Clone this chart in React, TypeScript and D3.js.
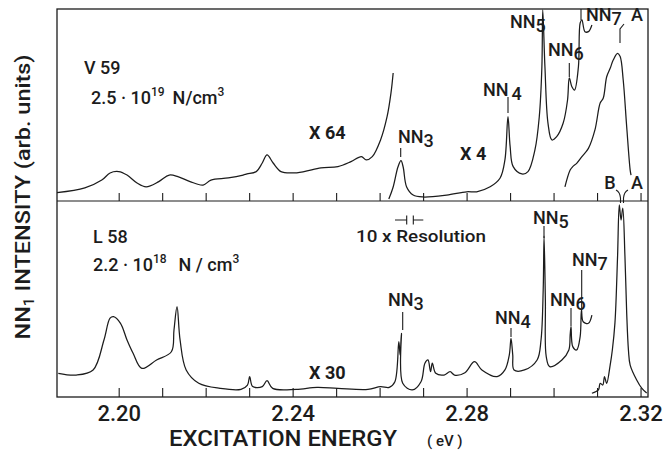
import * as d3 from "d3"

// V59 (upper panel), three recorder traces: x64, x4 and the B/A band
const v59x64E = [2.1857, 2.1921, 2.1960, 2.1979, 2.1999, 2.2018, 2.2041, 2.2062, 2.2091, 2.2115, 2.2135, 2.2163, 2.2193, 2.2211, 2.2251, 2.2285, 2.2294, 2.2315, 2.2329, 2.2340, 2.2354, 2.2372, 2.2398, 2.2425, 2.2464, 2.2503, 2.2533, 2.2557, 2.2568, 2.2582, 2.2601, 2.2616, 2.2625, 2.2630]
const v59x64I = [4.3, 6.8, 10.9, 14.6, 15.3, 13.5, 9.4, 7.4, 10.1, 13.5, 12.7, 10.1, 8.3, 10.9, 12.0, 13.5, 14.1, 15.3, 19.8, 24.0, 19.8, 15.3, 14.6, 15.3, 17.2, 17.9, 20.5, 23.1, 21.4, 23.1, 31.8, 43.9, 56.3, 66.7]

const v59x4E = [2.2620, 2.2630, 2.2641, 2.2648, 2.2653, 2.2661, 2.2676, 2.2699, 2.2753, 2.2799, 2.2822, 2.2853, 2.2876, 2.2887, 2.2894, 2.2899, 2.2906, 2.2926, 2.2940, 2.2956, 2.2966, 2.2972, 2.2974, 2.2979, 2.2986, 2.2995, 2.3006, 2.3021, 2.3031, 2.3035, 2.3041, 2.3047, 2.3056, 2.3060, 2.3064, 2.3071, 2.3079, 2.3087]
const v59x4I = [1.0, 7.3, 17.7, 21.0, 17.7, 7.3, 3.1, 2.1, 3.1, 4.8, 4.8, 7.4, 12.0, 21.4, 43.9, 28.3, 17.9, 14.1, 15.3, 26.6, 43.9, 69.9, 99.5, 69.9, 40.6, 31.8, 33.5, 40.6, 52.6, 64.1, 59.5, 57.8, 69.9, 92.7, 94.3, 88.2, 88.2, 91.7]

const v59bandE = [2.3025, 2.3037, 2.3043, 2.3052, 2.3064, 2.3079, 2.3094, 2.3106, 2.3113, 2.3121, 2.3129, 2.3136, 2.3146, 2.3152, 2.3159, 2.3167, 2.3175, 2.3177]
const v59bandI = [7.4, 16.1, 17.9, 19.6, 23.1, 27.4, 37.0, 51.0, 53.5, 64.7, 69.1, 73.4, 76.9, 75.2, 63.0, 38.7, 16.1, 13.5]

// L58 (lower panel): x30 trace and the B/A band
const l58x30E = [2.1860, 2.1901, 2.1940, 2.1965, 2.1979, 2.1987, 2.2003, 2.2018, 2.2032, 2.2052, 2.2086, 2.2120, 2.2126, 2.2133, 2.2140, 2.2154, 2.2183, 2.2232, 2.2280, 2.2295, 2.2300, 2.2307, 2.2329, 2.2340, 2.2353, 2.2407, 2.2455, 2.2503, 2.2572, 2.2601, 2.2621, 2.2634, 2.2643, 2.2646, 2.2649, 2.2652, 2.2674, 2.2694, 2.2703, 2.2710, 2.2716, 2.2720, 2.2728, 2.2747, 2.2761, 2.2771, 2.2795, 2.2817, 2.2834, 2.2869, 2.2887, 2.2897, 2.2901, 2.2905, 2.2908, 2.2932, 2.2961, 2.2970, 2.2975, 2.2977, 2.2980, 2.2982, 2.2990, 2.3018, 2.3034, 2.3037, 2.3039, 2.3043, 2.3052, 2.3060, 2.3063, 2.3067, 2.3079, 2.3087]
const l58x30I = [12.1, 11.2, 13.8, 29.1, 40.2, 41.0, 37.6, 29.1, 22.3, 14.6, 18.9, 23.1, 34.2, 46.1, 29.1, 13.8, 7.0, 4.4, 3.9, 6.1, 10.4, 5.3, 5.3, 8.3, 4.4, 3.9, 4.9, 4.4, 3.9, 5.3, 4.9, 7.8, 28.2, 21.4, 32.5, 7.0, 3.6, 7.8, 17.2, 18.9, 12.9, 17.3, 12.1, 11.2, 12.9, 11.2, 12.4, 18.0, 13.8, 10.4, 13.8, 21.4, 29.9, 21.4, 13.8, 13.8, 18.9, 29.1, 54.6, 82.1, 49.5, 20.6, 15.5, 18.9, 24.0, 31.6, 35.9, 25.7, 24.0, 30.8, 44.4, 38.4, 37.6, 41.8]

const l58bandE = [2.3087, 2.3102, 2.3106, 2.3112, 2.3116, 2.3121, 2.3129, 2.3134, 2.3140, 2.3146, 2.3150, 2.3154, 2.3158, 2.3163, 2.3167, 2.3171, 2.3175, 2.3190, 2.3202, 2.3213]
const l58bandI = [1.9, 3.6, 7.0, 6.1, 10.4, 7.0, 16.3, 24.0, 37.8, 71.6, 98.0, 90.3, 96.4, 71.6, 42.9, 24.0, 16.3, 8.7, 4.4, 2.0]

const energyTicks = [2.20, 2.21, 2.22, 2.23, 2.24, 2.25, 2.26, 2.27, 2.28, 2.29, 2.30, 2.31, 2.32]
const energyLabels = [2.20, 2.24, 2.28, 2.32]

const INK = "#1c1c1c"
const FONT = "Roboto, 'DejaVu Sans', sans-serif"

const left = 57
const right = 648
const top = 9
const mid = 201
const bottom = 397

const x = d3.scaleLinear().domain([2.1857, 2.3216]).range([left, right])
const yUp = d3.scaleLinear().domain([0, 100]).range([mid, top])
const yLow = d3.scaleLinear().domain([0, 100]).range([bottom, mid])

const trace = (es: number[], is: number[], y: d3.ScaleLinear<number, number>) =>
  d3.line<number>()
    .x((d) => x(d))
    .y((d, i) => y(is[i]))
    .curve(d3.curveCatmullRom.alpha(0.5))(es) || ""

const NN = ({ x0, y0, sub, gap = 0 }: { x0: number; y0: number; sub: string; gap?: number }) => (
  <text x={x0} y={y0} fontSize={18} fontWeight={500}>
    NN<tspan dx={gap} dy={4}>{sub}</tspan>
  </text>
)

export default function App() {
  return (
    <svg width={663} height={451} style={{ position: "absolute", left: 0, top: 0, background: "#fff" }}
      fontFamily={FONT} fill={INK}>
      {/* frame + divider */}
      <rect x={left} y={top} width={right - left} height={bottom - top} fill="none" stroke={INK} strokeWidth={1.3} />
      <line x1={left} x2={right} y1={mid} y2={mid} stroke={INK} strokeWidth={1.2} />

      {/* ticks, every 10 meV, pointing up */}
      {energyTicks.map((e) => (
        <g key={e} stroke={INK} strokeWidth={1.1}>
          <line x1={x(e)} x2={x(e)} y1={mid} y2={mid - 8} />
          <line x1={x(e)} x2={x(e)} y1={bottom} y2={bottom - 9} />
        </g>
      ))}
      {energyLabels.map((e) => (
        <text key={e} x={x(e)} y={421} fontSize={22} fontWeight={500} textAnchor="middle">{e.toFixed(2)}</text>
      ))}

      {/* traces */}
      <g fill="none" stroke={INK} strokeWidth={1.25} strokeLinejoin="round">
        <path d={trace(v59x64E, v59x64I, yUp)} />
        <path d={trace(v59x4E, v59x4I, yUp)} />
        <path d={trace(v59bandE, v59bandI, yUp)} />
        <path d={trace(l58x30E, l58x30I, yLow)} />
        <path d={trace(l58bandE, l58bandI, yLow)} />
      </g>

      {/* peak markers */}
      <g stroke={INK} strokeWidth={1.1} fill="none">
        <path d="M400.7,148V157 M508,97V113 M569.3,63V77 M581,9V20 M620,43V29L624,24" />
        <path d="M402.7,312V330 M511,328V337 M544,226V238 M571,308V326 M581.7,270V308" />
        <path d="M616,190Q620,192 620.5,198V203 M628,190Q624,192 623.5,198V203" />
        <path d="M395,220H406.7 M406.7,215.5V224.5 M413.3,215.5V224.5 M413.3,220H423.3" />
      </g>

      {/* upper panel text */}
      <text x={84} y={74} fontSize={18} fontWeight={500}>V 59</text>
      <text x={91} y={104} fontSize={18} fontWeight={500}>
        2.5 · 10<tspan fontSize={12} dy={-8}>19</tspan><tspan dx={8} dy={8}>N/cm</tspan><tspan fontSize={12} dy={-8}>3</tspan>
      </text>
      <text x={309} y={139} fontSize={18} fontWeight={700}>X 64</text>
      <text x={460} y={160} fontSize={18} fontWeight={700}>X 4</text>
      <NN x0={398} y0={143} sub="3" />
      <NN x0={483} y0={96} sub="4" gap={3} />
      <NN x0={510} y0={28} sub="5" />
      <NN x0={548} y0={56} sub="6" />
      <NN x0={586} y0={21} sub="7" />
      <text x={637} y={21} fontSize={18} fontWeight={500} textAnchor="middle">A</text>
      <text x={610} y={189} fontSize={18} fontWeight={500} textAnchor="middle">B</text>
      <text x={637} y={189} fontSize={18} fontWeight={500} textAnchor="middle">A</text>

      {/* lower panel text */}
      <text x={93} y={243} fontSize={18} fontWeight={500}>L 58</text>
      <text x={93} y={271} fontSize={18} fontWeight={500}>
        2.2 · 10<tspan fontSize={12} dy={-8}>18</tspan><tspan dx={12} dy={8}>N / cm</tspan><tspan fontSize={12} dy={-8}>3</tspan>
      </text>
      <text x={356} y={242} fontSize={16} fontWeight={500} textLength={130} lengthAdjust="spacingAndGlyphs">10 x Resolution</text>
      <text x={309} y={379} fontSize={18} fontWeight={700}>X 30</text>
      <NN x0={388} y0={306} sub="3" />
      <NN x0={495} y0={324} sub="4" />
      <NN x0={533} y0={224} sub="5" />
      <NN x0={550} y0={306} sub="6" />
      <NN x0={572} y0={266} sub="7" />

      {/* axis titles */}
      <text x={169} y={446} fontSize={22} fontWeight={500} textLength={228} lengthAdjust="spacingAndGlyphs">EXCITATION ENERGY</text>
      <text x={427} y={446} fontSize={15} fontWeight={500}>( eV )</text>
      <text transform="translate(30,197) rotate(-90)" textAnchor="middle" fontSize={21} fontWeight={500}
        textLength={285} lengthAdjust="spacingAndGlyphs">
        NN<tspan fontSize={14} dy={4}>1</tspan><tspan dy={-4}> INTENSITY (arb. units)</tspan>
      </text>
    </svg>
  )
}
